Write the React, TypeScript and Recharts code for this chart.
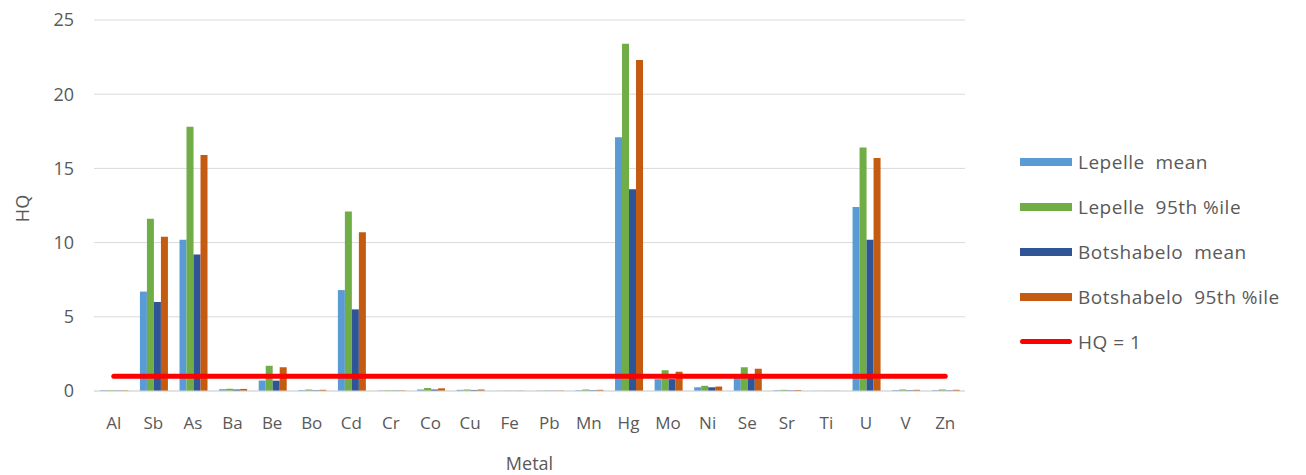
import React from "react";
import {
  Bar,
  CartesianGrid,
  ComposedChart,
  Line,
  XAxis,
  YAxis,
} from "recharts";

const metals = ["Al", "Sb", "As", "Ba", "Be", "Bo", "Cd", "Cr", "Co", "Cu", "Fe", "Pb", "Mn", "Hg", "Mo", "Ni", "Se", "Sr", "Ti", "U", "V", "Zn"];
const lepelleMean = [0.05, 6.7, 10.2, 0.12, 0.7, 0.06, 6.8, 0.03, 0.1, 0.08, 0.01, 0.02, 0.05, 17.1, 0.8, 0.25, 1.0, 0.05, 0.01, 12.4, 0.06, 0.05];
const lepelle95 = [0.05, 11.6, 17.8, 0.15, 1.7, 0.1, 12.1, 0.05, 0.2, 0.1, 0.02, 0.03, 0.1, 23.4, 1.4, 0.35, 1.6, 0.08, 0.01, 16.4, 0.1, 0.1];
const botshabeloMean = [0.03, 6.0, 9.2, 0.1, 0.7, 0.05, 5.5, 0.03, 0.1, 0.07, 0.01, 0.02, 0.05, 13.6, 0.8, 0.25, 0.9, 0.04, 0.01, 10.2, 0.05, 0.04];
const botshabelo95 = [0.04, 10.4, 15.9, 0.14, 1.6, 0.08, 10.7, 0.04, 0.18, 0.1, 0.02, 0.03, 0.08, 22.3, 1.3, 0.3, 1.5, 0.07, 0.01, 15.7, 0.08, 0.08];
const hqLimit = 1;
const yTicks = [0, 5, 10, 15, 20, 25];

const data = metals.map((metal, i) => ({
  metal,
  lm: lepelleMean[i],
  l95: lepelle95[i],
  bm: botshabeloMean[i],
  b95: botshabelo95[i],
  hq: hqLimit,
}));

const FONT = "'Open Sans', sans-serif";
const GREY = "#595959";

const legendItems = [
  { label: "Lepelle  mean", color: "#5B9BD5", line: false },
  { label: "Lepelle  95th %ile", color: "#70AD47", line: false },
  { label: "Botshabelo  mean", color: "#2F5597", line: false },
  { label: "Botshabelo  95th %ile", color: "#C55A11", line: false },
  { label: "HQ = 1", color: "#FF0000", line: true },
];

// legend drawn as plain html next to the plot
function LegendBox() {
  return (
    <div
      style={{
        position: "absolute",
        left: 1012,
        top: 131,
        fontFamily: FONT,
        fontSize: 19,
        letterSpacing: 0.5,
        color: GREY,
      }}
    >
      {legendItems.map((item) => (
        <div key={item.label} style={{ display: "flex", alignItems: "center", height: 45, whiteSpace: "pre" }}>
          <span
            style={{
              display: "inline-block",
              width: 52,
              height: item.line ? 5 : 8,
              borderRadius: item.line ? 3 : 0,
              background: item.color,
              marginRight: 6,
            }}
          />
          {item.label}
        </div>
      ))}
    </div>
  );
}

function HQLabel({ viewBox }: { viewBox?: { x: number; y: number; width: number; height: number } }) {
  if (!viewBox) return null;
  const cy = viewBox.y + viewBox.height / 2 + 3;
  return (
    <text x={14} y={cy} transform={`rotate(-90 14 ${cy})`} textAnchor="middle" dominantBaseline="central" fill={GREY} fontSize={18} fontFamily={FONT}>
      HQ
    </text>
  );
}

export default function App() {
  return (
    <div style={{ position: "relative", width: 1290, height: 467 }}>
      <ComposedChart
        width={1290}
        height={467}
        data={data}
        margin={{ top: 12, right: 333, left: 0, bottom: 0 }}
        barCategoryGap="16%"
        barGap={0}
      >
        <CartesianGrid vertical={false} stroke="#D9D9D9" />
        <XAxis
          dataKey="metal"
          height={84}
          interval={0}
          stroke="#D9D9D9"
          tickLine={false}
          tickSize={0}
          tickMargin={26}
          tick={{ fill: GREY, fontSize: 17, fontFamily: FONT }}
          label={{ value: "Metal", position: "insideBottom", offset: 5, fill: GREY, fontSize: 18, fontFamily: FONT }}
        />
        <YAxis
          width={86}
          domain={[0, 25]}
          ticks={yTicks}
          axisLine={false}
          tickLine={false}
          tickSize={0}
          tickMargin={20}
          tick={{ fill: GREY, fontSize: 18, fontFamily: FONT }}
          label={<HQLabel />}
        />
        <Bar dataKey="lm" fill="#5B9BD5" isAnimationActive={false} />
        <Bar dataKey="l95" fill="#70AD47" isAnimationActive={false} />
        <Bar dataKey="bm" fill="#2F5597" isAnimationActive={false} />
        <Bar dataKey="b95" fill="#C55A11" isAnimationActive={false} />
        <Line
          dataKey="hq"
          stroke="#FF0000"
          strokeWidth={5}
          strokeLinecap="round"
          dot={false}
          activeDot={false}
          isAnimationActive={false}
        />
      </ComposedChart>
      <LegendBox />
    </div>
  );
}
